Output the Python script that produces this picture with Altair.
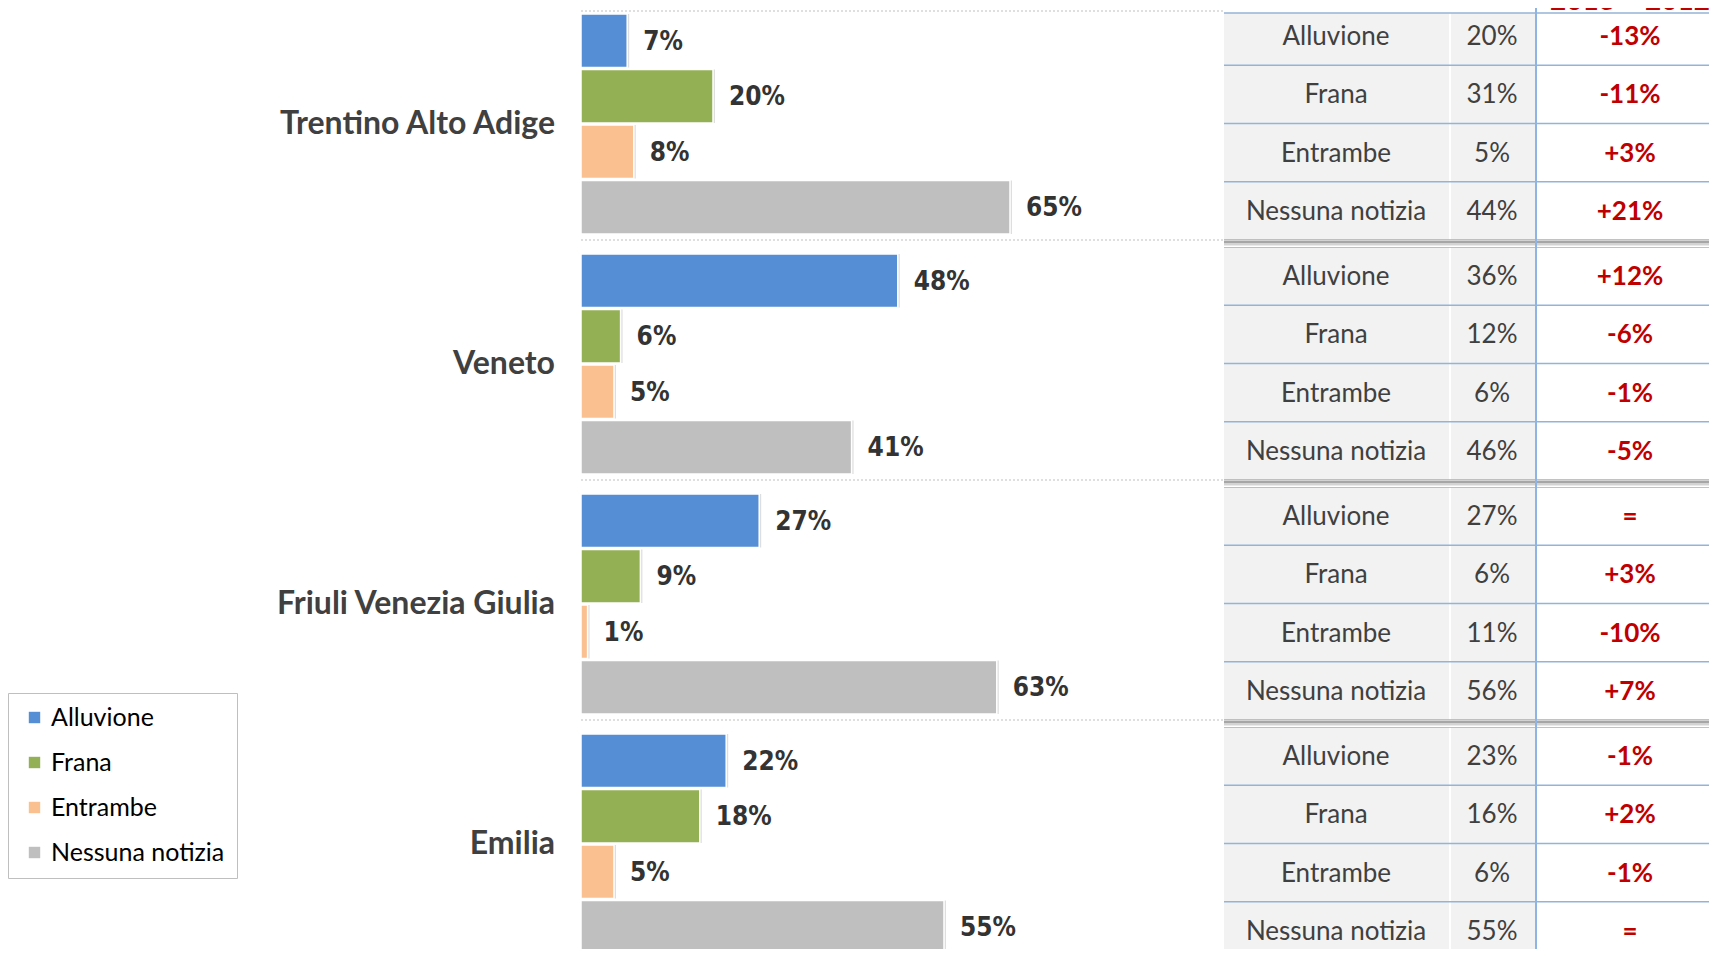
import altair as alt
import pandas as pd

# ---------------- data ----------------
REGIONS = ["Trentino Alto Adige", "Veneto", "Friuli Venezia Giulia", "Emilia"]
SERIES = ["Alluvione", "Frana", "Entrambe", "Nessuna notizia"]
COLORS = ["#558ED5", "#93B055", "#FAC090", "#BFBFBF"]

# bar values (2013)
TRENTINO_2013 = [7, 20, 8, 65]
VENETO_2013 = [48, 6, 5, 41]
FRIULI_2013 = [27, 9, 1, 63]
EMILIA_2013 = [22, 18, 5, 55]

# table values (2012)
TRENTINO_2012 = [20, 31, 5, 44]
VENETO_2012 = [36, 12, 6, 46]
FRIULI_2012 = [27, 6, 11, 56]
EMILIA_2012 = [23, 16, 6, 55]

HEADER = "2013 – 2012"

V13 = [TRENTINO_2013, VENETO_2013, FRIULI_2013, EMILIA_2013]
V12 = [TRENTINO_2012, VENETO_2012, FRIULI_2012, EMILIA_2012]


def fmt_diff(d):
    if d > 0:
        return f"+{d}%"
    if d < 0:
        return f"-{abs(d)}%"
    return "="


rows = []
for r, a13, a12 in zip(REGIONS, V13, V12):
    for s, v13, v12 in zip(SERIES, a13, a12):
        rows.append({
            "region": r, "series": s, "value": v13, "label": f"{v13}%",
            "prev": f"{v12}%", "diff": fmt_diff(v13 - v12),
        })
df = pd.DataFrame(rows)
df_reg = pd.DataFrame({"region": REGIONS})

# ---------------- layout constants (chart px) ----------------
W, H = 1701, 941
BAR_X0, BAR_X100 = 573, 1233
LABEL_RIGHT = 547
T_X0, T_C1, T_C2A, T_C2B, T_V, T_C3, T_X1 = 1216, 1441, 1443, 1527, 1528, 1529, 1701
T_TXT1, T_TXT2, T_TXT3 = 1328, 1484, 1622
T_HEAD_LINE = 5

BAR_FONT = "Liberation Sans Narrow, DejaVu Sans Condensed, Roboto"
TXT_FONT = "Lato"

# ---------------- left: bars ----------------
BAND = dict(domain=REGIONS, range=[0, 952], paddingInner=20 / 240, paddingOuter=6 / 240)
Y = alt.Y("region:N", sort=REGIONS, axis=None, scale=alt.Scale(**BAND))
YO = alt.YOffset("series:N", sort=SERIES,
                 scale=alt.Scale(domain=SERIES, paddingInner=2 / 55, paddingOuter=0))
X = alt.X("value:Q", axis=None,
          scale=alt.Scale(domain=[0, 100], range=[BAR_X0, BAR_X100]))

shadow = alt.Chart(df).mark_bar(color="#000000", opacity=0.13, xOffset=2, yOffset=2).encode(
    x=X, y=Y, yOffset=YO)

bars = alt.Chart(df).mark_bar(stroke="white", strokeWidth=1.5).encode(
    x=X, y=Y, yOffset=YO,
    color=alt.Color("series:N", sort=SERIES,
                    scale=alt.Scale(domain=SERIES, range=COLORS),
                    legend=alt.Legend(orient="none", legendX=0, legendY=685, title=None,
                                      symbolType="square", symbolSize=130,
                                      symbolStrokeWidth=0,
                                      labelFont=TXT_FONT, labelFontSize=25,
                                      labelColor="#000000", rowPadding=19,
                                      labelLimit=0,
                                      padding=12, symbolOffset=2, labelOffset=4,
                                      strokeColor="#BFBFBF", fillColor="white")))

bar_labels = alt.Chart(df).mark_text(
    align="left", baseline="middle", dx=16, dy=1, font=BAR_FONT, fontSize=26,
    fontWeight="bold", color="#333333").encode(x=X, y=Y, yOffset=YO, text="label:N")

region_labels = alt.Chart(df_reg).mark_text(
    align="right", baseline="middle", font=TXT_FONT, fontSize=32,
    fontWeight="bold", color="#404040").encode(
    x=alt.value(LABEL_RIGHT), y=Y, text="region:N")

seps = alt.Chart(df_reg).mark_rule(strokeDash=[2, 2], color="#BFBFBF", strokeWidth=1,
                                   yOffset=6).encode(
    y=alt.Y("region:N", sort=REGIONS, axis=None, bandPosition=1, scale=alt.Scale(**BAND)),
    x=alt.value(BAR_X0), x2=alt.value(T_X0))

top_sep = alt.Chart(df_reg.iloc[:1]).mark_rule(strokeDash=[2, 2], color="#BFBFBF",
                                              strokeWidth=1, yOffset=-3).encode(
    y=alt.Y("region:N", sort=REGIONS, axis=None, bandPosition=0, scale=alt.Scale(**BAND)),
    x=alt.value(BAR_X0), x2=alt.value(T_X0))

left = alt.layer(shadow, bars, bar_labels, region_labels, seps, top_sep)

# ---------------- right: table ----------------
TSCALE = alt.Scale(domain=REGIONS, range=[-1, 952], paddingInner=7 / 240, paddingOuter=0)
TY = alt.Y("region:N", sort=REGIONS, axis=None, scale=TSCALE)
TYO = alt.YOffset("series:N", sort=SERIES,
                  scale=alt.Scale(domain=SERIES, paddingInner=0.028, paddingOuter=0.014))

t_bg = alt.Chart(df_reg).mark_rect(color="#95B3D7").encode(
    y=TY, x=alt.value(T_X0), x2=alt.value(T_X1))
t_c1 = alt.Chart(df).mark_rect(color="#F2F2F2").encode(
    y=TY, yOffset=TYO, x=alt.value(T_X0), x2=alt.value(T_C1))
t_gap = alt.Chart(df).mark_rect(color="#FFFFFF").encode(
    y=TY, yOffset=TYO, x=alt.value(T_C1), x2=alt.value(T_C2A))
t_c2 = alt.Chart(df).mark_rect(color="#F2F2F2").encode(
    y=TY, yOffset=TYO, x=alt.value(T_C2A), x2=alt.value(T_C2B))
t_c3 = alt.Chart(df).mark_rect(color="#FFFFFF").encode(
    y=TY, yOffset=TYO, x=alt.value(T_C3), x2=alt.value(T_X1))

TYB = alt.Y("region:N", sort=REGIONS, axis=None, scale=TSCALE, bandPosition=0)
t_sh1 = alt.Chart(df_reg.iloc[1:]).mark_rule(color="#A6A6A6", strokeWidth=3, yOffset=-5).encode(
    y=TYB, x=alt.value(T_X0), x2=alt.value(T_X1))
t_sh2 = alt.Chart(df_reg.iloc[1:]).mark_rule(color="#D3D3D3", strokeWidth=2, yOffset=-2.5).encode(
    y=TYB, x=alt.value(T_X0), x2=alt.value(T_X1))

# header strip above the first row
t_head_bg = alt.Chart(df_reg.iloc[:1]).mark_rect(color="#FFFFFF").encode(
    x=alt.value(T_X0), x2=alt.value(T_X1), y=alt.value(0), y2=alt.value(T_HEAD_LINE))
t_head_line = alt.Chart(df_reg.iloc[:1]).mark_rule(color="#95B3D7", strokeWidth=1.5).encode(
    x=alt.value(T_X0), x2=alt.value(T_X1), y=alt.value(T_HEAD_LINE))

t_vline = alt.Chart(df_reg.iloc[:1]).mark_rule(color="#8DB4E2", strokeWidth=2).encode(
    x=alt.value(T_V), y=alt.value(0), y2=alt.value(H))

t_txt1 = alt.Chart(df).mark_text(font=TXT_FONT, fontSize=26, color="#404040",
                                 baseline="middle", dy=1).encode(
    y=TY, yOffset=TYO, x=alt.value(T_TXT1), text="series:N")
t_txt2 = alt.Chart(df).mark_text(font=TXT_FONT, fontSize=26, color="#404040",
                                 baseline="middle", dy=1).encode(
    y=TY, yOffset=TYO, x=alt.value(T_TXT2), text="prev:N")
t_txt3 = alt.Chart(df).mark_text(font=TXT_FONT, fontSize=26, color="#C00000",
                                 fontWeight="bold", baseline="middle", dy=1).encode(
    y=TY, yOffset=TYO, x=alt.value(T_TXT3), text="diff:N")

header = alt.Chart(pd.DataFrame({"h": [HEADER]})).mark_text(
    font=TXT_FONT, fontSize=28, color="#C00000", fontWeight="bold",
    baseline="alphabetic").encode(x=alt.value(T_TXT3), y=alt.value(2), text="h:N")

table = alt.layer(t_bg, t_c1, t_gap, t_c2, t_c3, t_sh1, t_sh2, t_head_bg, t_head_line,
                  t_vline, t_txt1, t_txt2, t_txt3, header)

chart = alt.layer(left, table).resolve_scale(
    y="independent", yOffset="independent"
).properties(
    width=W, height=H, padding=0,
    autosize=alt.AutoSizeParams(type="none"),
).configure_view(stroke=None)

chart.save("out.html", embed_options={"renderer": "svg", "actions": False})
